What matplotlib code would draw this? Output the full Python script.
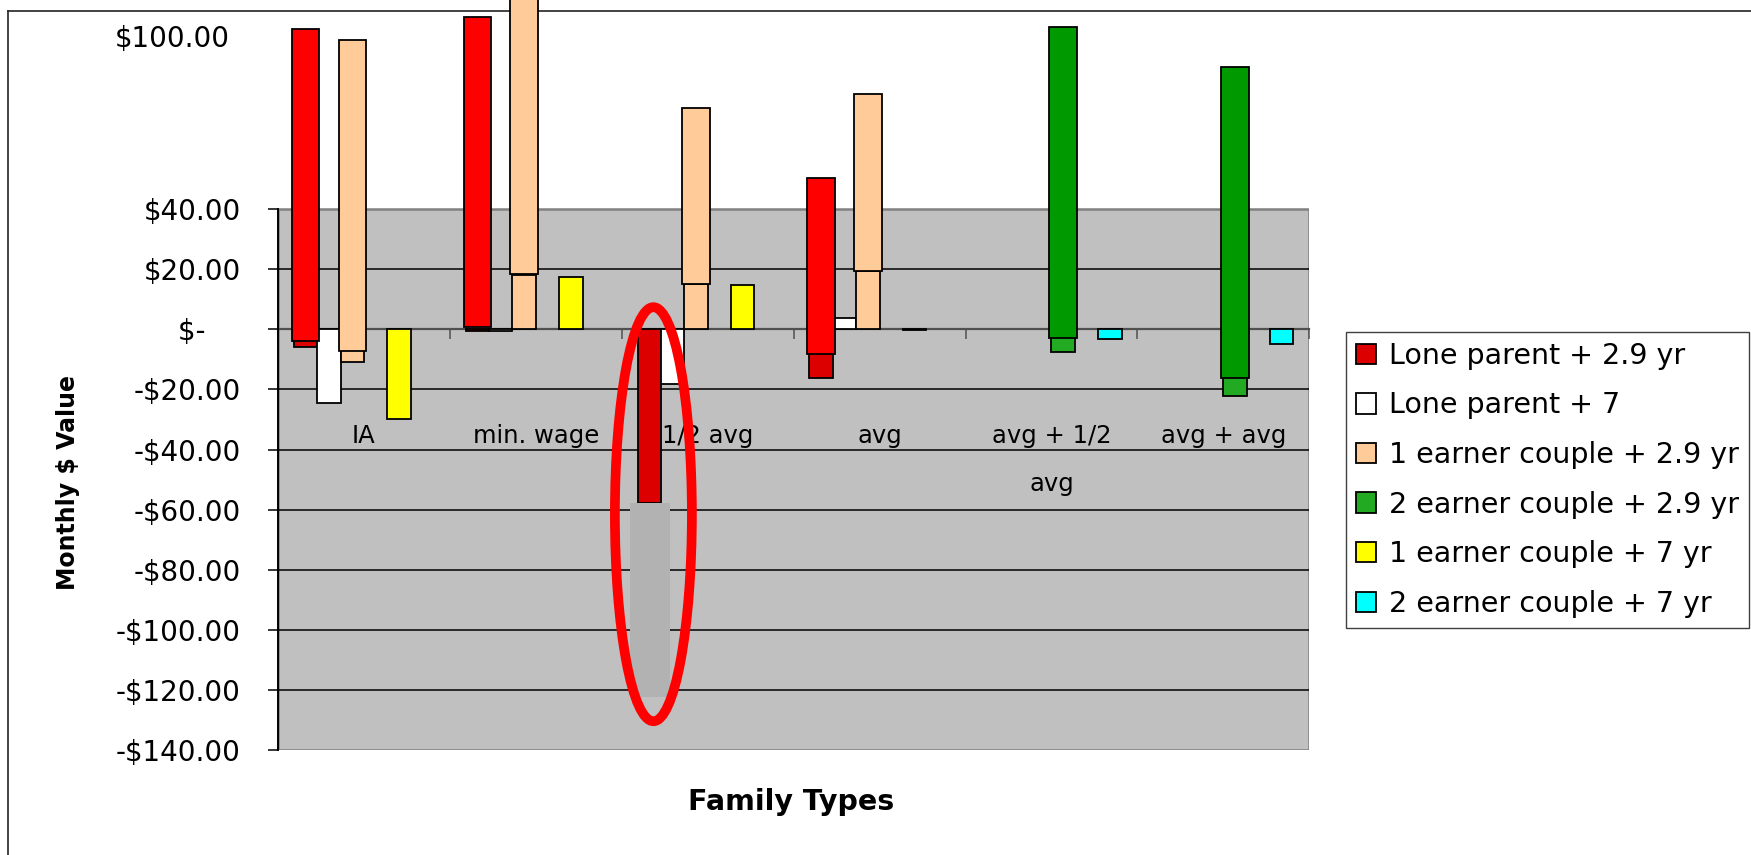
import matplotlib
matplotlib.use("Agg")
import matplotlib.pyplot as plt
from matplotlib.patches import Rectangle, Ellipse
from matplotlib.lines import Line2D

categories = ["IA", "min. wage", "1/2 avg", "avg", "avg + 1/2\navg", "avg + avg"]
series_names = ["Lone parent + 2.9 yr", "Lone parent + 7", "1 earner couple + 2.9 yr",
                "2 earner couple + 2.9 yr", "1 earner couple + 7 yr", "2 earner couple + 7 yr"]
series_colors = ["#DD0000", "#FFFFFF", "#FFCC99", "#22AA22", "#FFFF00", "#00FFFF"]

# monthly $ change per family type (None = no bar)
lone_29 = [-5.8, -0.6, -57.7, -16.3, None, None]
lone_7 = [-24.6, -0.6, -18.3, 3.6, None, None]
one_29 = [-11.0, 18.0, 14.9, 19.2, None, None]
two_29 = [None, None, None, None, -7.5, -22.2]
one_7 = [-29.8, 17.5, 14.8, -0.4, None, None]
two_7 = [None, None, None, None, -3.4, -5.0]

# wide floating bars drawn over three of the series (bottom / top)
red_lo = [-3.8, 0.8, None, -8.1, None, None]
red_hi = [99.7, 103.9, None, 50.4, None, None]
peach_lo = [-7.1, 18.3, 14.9, 19.2, None, None]
peach_hi = [96.1, 125.0, 73.4, 78.2, None, None]
green_lo = [None, None, None, None, -2.8, -16.1]
green_hi = [None, None, None, None, 100.3, 87.2]

# greyed out rest of the lone parent bar at 1/2 avg
cut_lo = [None, None, -122.3, None, None, None]
cut_hi = [None, None, -57.7, None, None, None]

yticks = [-140, -120, -100, -80, -60, -40, -20, 0, 20, 40]


def money(v):
    if v == 0:
        return "$-    "
    if v < 0:
        return "-${:.2f}".format(-v)
    return "${:.2f}".format(v)


W, H = 1751, 855
fig = plt.figure(figsize=(W / 100, H / 100), dpi=100)

# outer chart frame (only left and top edges fall inside the picture)
fig.add_artist(Line2D([7.5 / W, 7.5 / W], [0, 1 - 10.7 / H], color="#222222", lw=1.2, zorder=-1))
fig.add_artist(Line2D([7.5 / W, 1], [1 - 10.7 / H, 1 - 10.7 / H], color="#222222", lw=1.2, zorder=-1))

ax = fig.add_axes([278 / W, 1 - 750.4 / H, 1031.3 / W, 750.4 / H])
ax.patch.set_visible(False)
ax.set_xlim(-0.5, 5.5)
ax.set_ylim(-140, 109.4)

# grey plot area with gridlines
ax.add_patch(Rectangle((-0.5, -140), 6, 180, facecolor="#C0C0C0", edgecolor="#808080",
                       lw=1.8, zorder=0))
ax.hlines([t for t in yticks if t not in (0, 40, -140)], -0.5, 5.5, color="black", lw=1.1, zorder=1)

x = list(range(len(categories)))
bw = 0.136
big_w = 0.16


def draw(vals, slot, color, width, lows=None, **kw):
    xs, hs, bs = [], [], []
    for i, v in enumerate(vals):
        if v is None:
            continue
        b = 0 if lows is None else lows[i]
        xs.append(x[i] + (slot - 2.5) * bw)
        hs.append(v - b)
        bs.append(b)
    return ax.bar(xs, hs, width, bottom=bs, color=color, **kw)


handles = []
for slot, (vals, col) in enumerate(zip([lone_29, lone_7, one_29, two_29, one_7, two_7], series_colors)):
    handles.append(draw(vals, slot, col, bw, edgecolor="black", lw=1.3, zorder=3))

draw(red_hi, 0, "#FF0000", big_w, red_lo, edgecolor="black", lw=1.3, zorder=4)
draw(peach_hi, 2, "#FFCC99", big_w, peach_lo, edgecolor="black", lw=1.3, zorder=4)
draw(green_hi, 3, "#009900", big_w, green_lo, edgecolor="black", lw=1.3, zorder=4)
draw(cut_hi, 0.05, "#B2B2B2", 0.233, cut_lo, edgecolor="none", zorder=4)

# red ring around the cut bar
ax.add_patch(Ellipse((1.684, -61.5), 0.448, 137.6, fill=False, edgecolor="#FF0000",
                     lw=7, zorder=6, clip_on=False))

# axes
for s in ["top", "right"]:
    ax.spines[s].set_visible(False)
ax.spines["left"].set_bounds(-140, 40)
ax.spines["left"].set_linewidth(1.4)
ax.spines["left"].set_zorder(5)
ax.spines["bottom"].set_position(("data", 0))
ax.spines["bottom"].set_color("#505050")
ax.spines["bottom"].set_linewidth(1.6)
ax.spines["bottom"].set_zorder(2)

ax.set_yticks(yticks)
ax.set_yticklabels([money(t) for t in yticks])
ax.tick_params(axis="y", direction="out", length=7.2, width=1.1, pad=19.5, labelsize=20)

ax.set_xticks(x)
ax.set_xticklabels(categories)
ax.set_xticks([i - 0.5 for i in range(len(categories) + 1)], minor=True)
ax.tick_params(axis="x", which="major", length=0, pad=68.5, labelsize=17.5)
ax.tick_params(axis="x", which="minor", direction="out", length=7.2, width=1.1, color="#505050")
for lab in ax.get_xticklabels():
    lab.set_linespacing(2.25)

ax.text(-0.783, 96.4, "$100.00", ha="right", va="center", fontsize=20, clip_on=False)

fig.text(68 / W, 1 - 482 / H, "Monthly $ Value", rotation=90, ha="center", va="center",
         fontsize=17, fontweight="bold")
fig.text(791.5 / W, 1 - 802 / H, "Family Types", ha="center", va="center",
         fontsize=20.5, fontweight="bold")

fig.legend(handles, series_names, loc="upper left", bbox_to_anchor=(1345.7 / W, 1 - 331.7 / H),
           borderaxespad=0, fancybox=False, edgecolor="#404040", framealpha=1, fontsize=20.5,
           handlelength=0.72, handleheight=0.72, handletextpad=0.45, labelspacing=0.76,
           borderpad=0.35)

fig.savefig("out.png", dpi=100)
